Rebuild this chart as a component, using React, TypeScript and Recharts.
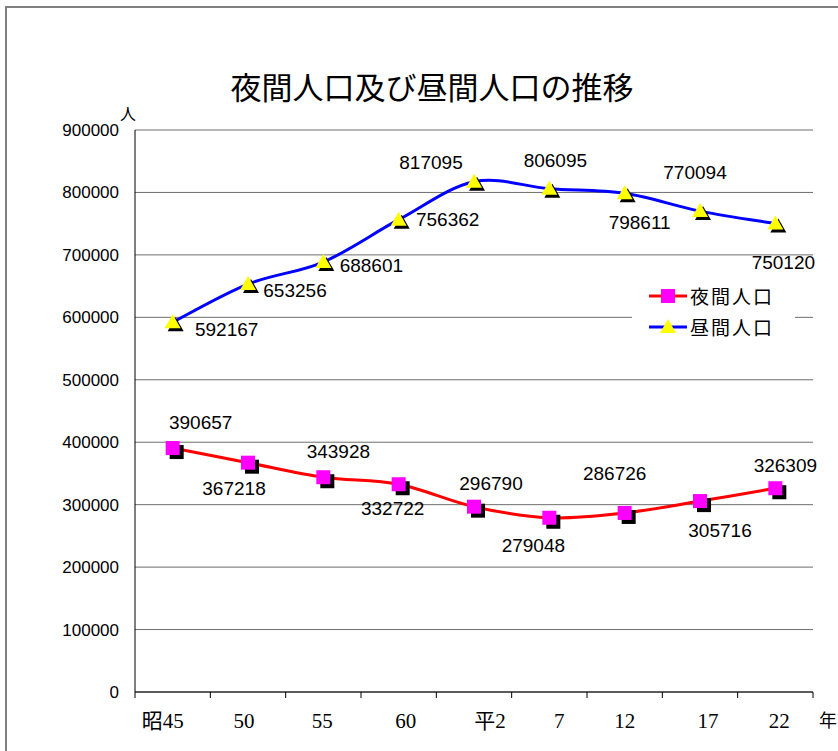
import React from 'react';
import { LineChart, Line, XAxis, YAxis, CartesianGrid, LabelList, Legend } from 'recharts';

const categories = ['昭45', '50', '55', '60', '平2', '7', '12', '17', '22'];
const nightPop = [390657, 367218, 343928, 332722, 296790, 279048, 286726, 305716, 326309];
const dayPop = [592167, 653256, 688601, 756362, 817095, 806095, 798611, 770094, 750120];
const yTicks = [0, 100000, 200000, 300000, 400000, 500000, 600000, 700000, 800000, 900000];

// label placement (offset of label centre from its point), style only
const nightLabelOffsets = [[28, -26], [-14, 26], [15, -26], [-6, 24], [17, -23], [-16, 28], [-10, -39], [20, 29], [10, -23]];
const dayLabelOffsets = [[54, 7], [47, 6], [48, 3], [49, 0], [-43, -19], [6, -28], [15, 29], [-5, -39], [8, 39]];
const catLabelShift = [-10, -4, -1, 7, 16, 10, 0, 8, 4];

const data = categories.map((label, idx) => ({
  idx,
  label,
  night: nightPop[idx],
  day: dayPop[idx],
}));

// half-step ticks are the boundary tick marks, whole ones carry the labels
const xTicks: number[] = [];
for (let i = -0.5; i <= 8.5; i += 0.5) xTicks.push(i);

// Excel-style smoothed line (cardinal bezier through every point)
const excelCurve = (context: any) => {
  let pts: number[][] = [];
  return {
    areaStart() {},
    areaEnd() {},
    lineStart() { pts = []; },
    lineEnd() {
      if (!pts.length) return;
      context.moveTo(pts[0][0], pts[0][1]);
      for (let i = 0; i < pts.length - 1; i++) {
        const p0 = pts[i - 1] || pts[i];
        const p1 = pts[i];
        const p2 = pts[i + 1];
        const p3 = pts[i + 2] || p2;
        context.bezierCurveTo(
          p1[0] + (p2[0] - p0[0]) / 6, p1[1] + (p2[1] - p0[1]) / 6,
          p2[0] - (p3[0] - p1[0]) / 6, p2[1] - (p3[1] - p1[1]) / 6,
          p2[0], p2[1],
        );
      }
    },
    point(x: number, y: number) { pts.push([+x, +y]); },
  };
};

const SquareDot = ({ cx, cy }: any) => {
  if (cx == null || cy == null) return null;
  return (
    <g>
      <rect x={cx - 7 + 4} y={cy - 7 + 4} width={14} height={14} fill="#000" />
      <rect x={cx - 7} y={cy - 7} width={14} height={14} fill="#FF00FF" />
    </g>
  );
};

const triPath = (x: number, y: number) => `M${x},${y - 8} L${x + 8},${y + 6} L${x - 8},${y + 6} Z`;

const TriangleDot = ({ cx, cy }: any) => {
  if (cx == null || cy == null) return null;
  return (
    <g>
      <path d={triPath(cx + 3, cy + 3)} fill="#000" />
      <path d={triPath(cx, cy)} fill="#FFFF00" />
    </g>
  );
};

const makeValueLabel = (offsets: number[][]) => (props: any) => {
  const { index, value } = props;
  const x = props.x ?? props.viewBox?.x;
  const y = props.y ?? props.viewBox?.y;
  const [dx, dy] = offsets[index] || [0, -20];
  return (
    <text
      x={x + dx}
      y={y + dy}
      textAnchor="middle"
      dominantBaseline="central"
      fontFamily="'Liberation Sans', Arial, sans-serif"
      fontSize={19}
      fill="#000"
    >
      {value}
    </text>
  );
};

const XTick = ({ x, y, payload }: any) => {
  const v = payload.value;
  if (!Number.isInteger(v)) {
    return <line x1={x} y1={y} x2={x} y2={y + 6} stroke="#000" strokeWidth={1} />;
  }
  return (
    <text
      x={x + catLabelShift[v]}
      y={y + 29}
      textAnchor="middle"
      dominantBaseline="central"
      fontFamily="'Liberation Serif', 'Noto Sans CJK JP', serif"
      fontSize={21}
      fill="#000"
    >
      {categories[v]}
    </text>
  );
};

const legendItems = [
  { name: '夜間人口', color: '#FF0000', marker: 'square' },
  { name: '昼間人口', color: '#0000FF', marker: 'triangle' },
];

const LegendContent = () => (
  <div style={{ background: '#fff', width: 163, height: 66, paddingTop: 4, boxSizing: 'border-box' }}>
    {legendItems.map((it) => (
      <div key={it.name} style={{ display: 'flex', alignItems: 'center', height: 31, paddingLeft: 17 }}>
        <svg width={40} height={20}>
          <line x1={0} y1={10} x2={38} y2={10} stroke={it.color} strokeWidth={3} />
          {it.marker === 'square'
            ? <rect x={12} y={3} width={14} height={14} fill="#FF00FF" />
            : <path d="M19,2 L27,16 L11,16 Z" fill="#FFFF00" />}
        </svg>
        <span style={{ fontFamily: "'Noto Sans CJK JP', sans-serif", fontSize: 19, letterSpacing: 2, color: '#000', marginLeft: 1 }}>
          {it.name}
        </span>
      </div>
    ))}
  </div>
);

export default function App() {
  return (
    <div style={{ position: 'absolute', left: 0, top: 0, width: 838, height: 751, overflow: 'hidden', background: '#fff' }}>
      <div style={{ position: 'absolute', left: 5, top: 6, width: 900, height: 900, border: '2px solid #808080' }} />
      <div
        style={{
          position: 'absolute', left: 0, top: 66, width: 864, textAlign: 'center',
          fontFamily: "'Noto Sans CJK JP', sans-serif", fontSize: 31, lineHeight: '40px', color: '#000',
        }}
      >
        夜間人口及び昼間人口の推移
      </div>
      <div style={{ position: 'absolute', left: 120, top: 103, fontFamily: "'Noto Sans CJK JP', sans-serif", fontSize: 16, lineHeight: '20px' }}>
        人
      </div>
      <div style={{ position: 'absolute', left: 819, top: 707, fontFamily: "'Noto Sans CJK JP', sans-serif", fontSize: 18, lineHeight: '24px' }}>
        年
      </div>
      <div style={{ position: 'absolute', left: 0, top: 0 }}>
        <LineChart
          width={838}
          height={751}
          data={data}
          margin={{ top: 130, right: 25, left: 75, bottom: 19 }}
        >
          <CartesianGrid horizontal vertical={false} stroke="#6e6e6e" strokeWidth={1} />
          <XAxis
            dataKey="idx"
            type="number"
            domain={[-0.5, 8.5]}
            ticks={xTicks}
            interval={0}
            tickLine={false}
            tickSize={0}
            tickMargin={0}
            axisLine={{ stroke: '#000', strokeWidth: 1 }}
            tick={<XTick />}
            height={40}
            allowDataOverflow
          />
          <YAxis
            domain={[0, 900000]}
            ticks={yTicks}
            interval={0}
            width={60}
            axisLine={{ stroke: '#000', strokeWidth: 1 }}
            tickLine={false}
            tickSize={0}
            tickMargin={16}
            tick={{ fontFamily: "'Liberation Sans Narrow', 'Liberation Sans', Arial, sans-serif", fontSize: 17, fill: '#000' }}
            allowDataOverflow
          />
          <Legend
            layout="vertical"
            align="center"
            verticalAlign="middle"
            content={<LegendContent />}
            wrapperStyle={{ left: 632, top: 276, width: 163, height: 66 }}
          />
          <Line
            dataKey="night"
            name="夜間人口"
            type={excelCurve as any}
            stroke="#FF0000"
            strokeWidth={3}
            dot={<SquareDot />}
            activeDot={false}
            isAnimationActive={false}
          >
            <LabelList dataKey="night" content={makeValueLabel(nightLabelOffsets)} />
          </Line>
          <Line
            dataKey="day"
            name="昼間人口"
            type={excelCurve as any}
            stroke="#0000FF"
            strokeWidth={3}
            dot={<TriangleDot />}
            activeDot={false}
            isAnimationActive={false}
          >
            <LabelList dataKey="day" content={makeValueLabel(dayLabelOffsets)} />
          </Line>
        </LineChart>
      </div>
    </div>
  );
}
